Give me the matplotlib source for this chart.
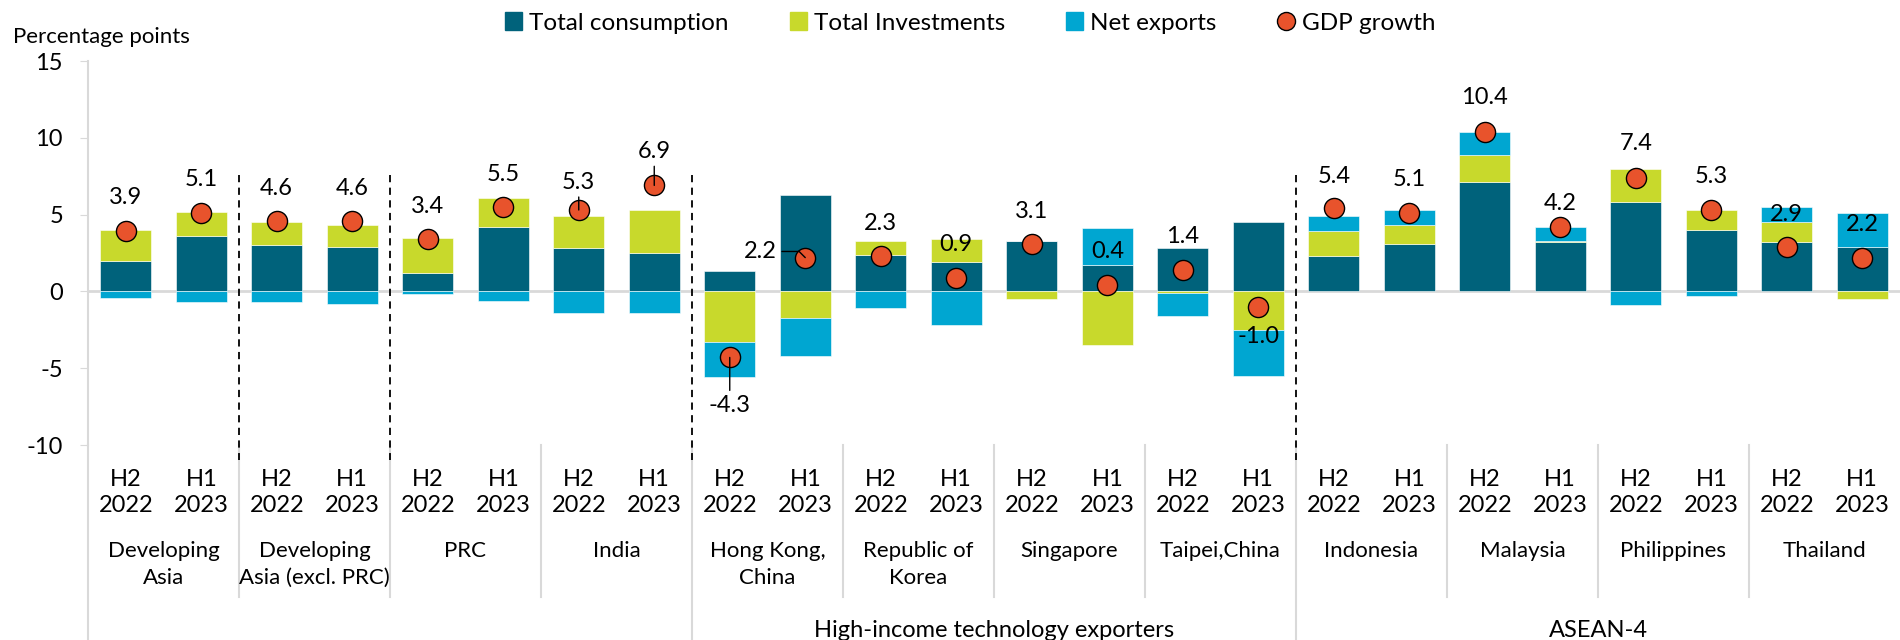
import matplotlib.pyplot as plt
import matplotlib.transforms as mtransforms
from matplotlib.patches import Patch
from matplotlib.lines import Line2D
import numpy as np

plt.rcParams['font.family'] = ['Lato', 'DejaVu Sans']
plt.rcParams['axes.unicode_minus'] = False

# Данные (процентные пункты)
countries = ['Developing\nAsia', 'Developing\nAsia (excl. PRC)', 'PRC', 'India',
             'Hong Kong,\nChina', 'Republic of\nKorea', 'Singapore', 'Taipei,China',
             'Indonesia', 'Malaysia', 'Philippines', 'Thailand']
periods = ['H2\n2022', 'H1\n2023']
supergroups = ['High-income technology exporters', 'ASEAN-4']

consumption = [2.0, 3.6, 3.0, 2.9, 1.2, 4.2, 2.8, 2.5,
               1.3, 6.3, 2.4, 1.9, 3.3, 1.7, 2.8, 4.5,
               2.3, 3.1, 7.1, 3.2, 5.8, 4.0, 3.2, 2.9]
investment = [2.0, 1.6, 1.5, 1.4, 2.3, 1.9, 2.1, 2.8,
              -3.3, -1.7, 0.9, 1.5, -0.5, -3.5, -0.1, -2.5,
              1.6, 1.2, 1.8, 0.1, 2.2, 1.3, 1.3, -0.5]
net_exports = [-0.4, -0.7, -0.7, -0.8, -0.2, -0.6, -1.4, -1.4,
               -2.3, -2.5, -1.1, -2.2, 0.0, 2.4, -1.5, -3.0,
               1.0, 1.0, 1.5, 0.9, -0.9, -0.3, 1.0, 2.2]
gdp = [3.9, 5.1, 4.6, 4.6, 3.4, 5.5, 5.3, 6.9,
       -4.3, 2.2, 2.3, 0.9, 3.1, 0.4, 1.4, -1.0,
       5.4, 5.1, 10.4, 4.2, 7.4, 5.3, 2.9, 2.2]

# Смещения подписей ВВП (в единицах оси) и выноски
label_dx = [0] * 24
label_dy = [2.2, 2.2, 2.1, 2.1, 2.1, 2.1, 1.8, 2.2,
            -3.1, 0.4, 2.15, 2.15, 2.1, 2.2, 2.15, -1.95,
            2.1, 2.2, 2.25, 1.55, 2.2, 2.2, 2.1, 2.15]
label_dx[9] = -0.6
leaders = {6, 7, 8, 9}

c_cons = '#00627B'
c_inv = '#C8D92C'
c_nx = '#00A6D1'
c_gdp = '#E8532C'
grey = '#D9D9D9'

fs = 17

fig = plt.figure(figsize=(19, 6.4), dpi=100)
ax = fig.add_axes([88 / 1900, 195 / 640, 1812 / 1900, 384 / 640])

x = np.arange(len(gdp))
pos_base = np.zeros(len(x))
neg_base = np.zeros(len(x))
for vals, col in [(consumption, c_cons), (investment, c_inv), (net_exports, c_nx)]:
    v = np.array(vals)
    bottom = np.where(v >= 0, pos_base, neg_base)
    ax.bar(x, v, 0.67, bottom=bottom, color=col, edgecolor='white', linewidth=0.4, zorder=2)
    pos_base += np.where(v >= 0, v, 0)
    neg_base += np.where(v < 0, v, 0)

ax.axhline(0, color=grey, lw=2, zorder=1)
ax.scatter(x, gdp, s=210, color=c_gdp, edgecolor='black', linewidth=1, zorder=4)

for i, g in enumerate(gdp):
    if i in leaders:
        if i == 9:
            ap = dict(arrowstyle='-', color='black', lw=1, shrinkA=2, shrinkB=0,
                      relpos=(1, 0.5), connectionstyle='angle,angleA=0,angleB=-45,rad=0')
        else:
            ap = dict(arrowstyle='-', color='black', lw=1, shrinkA=1, shrinkB=0)
    else:
        ap = None
    ax.annotate(f'{g:.1f}', xy=(x[i], g), xytext=(x[i] + label_dx[i], g + label_dy[i]),
                ha='center', va='center', fontsize=fs, arrowprops=ap, zorder=5)

ax.set_xlim(-0.5, len(x) - 0.5)
ax.set_ylim(-10, 15)
ax.set_yticks(range(-10, 16, 5))
ax.set_xticks(x)
ax.set_xticklabels(periods * len(countries), fontsize=fs, linespacing=1.3)
ax.tick_params(axis='x', length=0, pad=17)
ax.tick_params(axis='y', length=6, color=grey, pad=12, labelsize=fs)
for s in ['top', 'right', 'bottom']:
    ax.spines[s].set_visible(False)
ax.spines['left'].set_color(grey)
ax.spines['left'].set_linewidth(1.5)

trans = mtransforms.blended_transform_factory(ax.transData, ax.transAxes)

# Разделители групп
major = [7.5, 15.5]
for b in np.arange(1.5, len(x) - 1, 2):
    if b in major:
        ax.plot([b, b], [0, -0.508], transform=trans, color=grey, lw=1.5, clip_on=False, zorder=1)
    else:
        ax.plot([b, b], [0, -0.396], transform=trans, color=grey, lw=1.5, clip_on=False, zorder=1)
ax.plot([-0.5, -0.5], [0, -0.508], transform=trans, color=grey, lw=1.5, clip_on=False)

for b in [1.5, 3.5, 7.5, 15.5]:
    ax.plot([b, b], [7.6, -11.0], color='black', lw=1.3, ls=(0, (4, 3)), clip_on=False, zorder=3)

for k, name in enumerate(countries):
    ax.text(2 * k + 0.5, -0.25, name, transform=trans, ha='center', va='top',
            fontsize=16, linespacing=1.45)

ax.text(11.5, -0.482, supergroups[0], transform=trans, ha='center', va='center', fontsize=fs)
ax.text(19.5, -0.482, supergroups[1], transform=trans, ha='center', va='center', fontsize=fs)

fig.text(13 / 1900, 1 - 37 / 640, 'Percentage points', ha='left', va='center', fontsize=16)

handles = [Patch(color=c_cons), Patch(color=c_inv), Patch(color=c_nx),
           Line2D([], [], ls='none', marker='o', markersize=13,
                  markerfacecolor=c_gdp, markeredgecolor='black')]
fig.legend(handles, ['Total consumption', 'Total Investments', 'Net exports', 'GDP growth'],
           loc='center', bbox_to_anchor=(970 / 1900, 1 - 23 / 640), ncol=4, frameon=False,
           fontsize=17.5, handlelength=0.7, handleheight=0.7, handletextpad=0.3,
           columnspacing=2.5)

fig.savefig('out.png', dpi=100)
